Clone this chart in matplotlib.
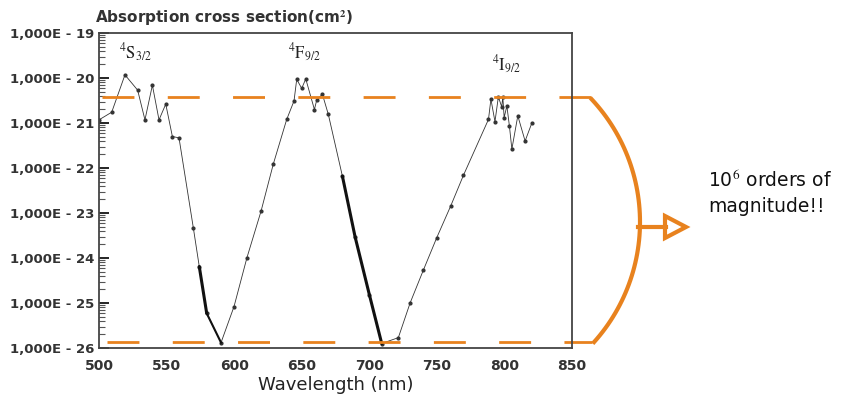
import numpy as np
import matplotlib.pyplot as plt
from matplotlib.patches import Polygon
from matplotlib.ticker import LogLocator, NullFormatter

plt.rcParams['mathtext.fontset'] = 'stix'

# absorption cross section (log10 of cm^2)
wavelength = [500, 509.4, 519.2, 528.6, 534, 539.5, 544.4, 549.4, 554.3, 559.2,
              569.8, 574.2, 579.7, 590.3, 599.9, 609.5, 619.9, 629, 638.9, 644.3,
              646.3, 650, 653, 659.4, 661.1, 665.3, 669.7, 680.1, 689.5, 700.1,
              709.2, 721.5, 730.2, 740, 749.9, 760.3, 769.7, 788.2, 790, 793,
              795.5, 798, 798.8, 799.8, 801.8, 803.7, 805.5, 809.9, 815.3, 820.3]
log_sigma = [-20.93, -20.76, -19.93, -20.27, -20.93, -20.16, -20.93, -20.58, -21.30, -21.33,
             -23.33, -24.19, -25.23, -25.88, -25.08, -23.99, -22.96, -21.91, -20.92, -20.51,
             -20.03, -20.23, -20.02, -20.70, -20.49, -20.36, -20.81, -22.18, -23.53, -24.82,
             -25.90, -25.77, -25.00, -24.27, -23.55, -22.84, -22.16, -20.92, -20.47, -20.97,
             -20.42, -20.64, -20.42, -20.88, -20.62, -21.07, -21.58, -20.84, -21.40, -21.00]
sigma = [10 ** v for v in log_sigma]

# densely measured stretches drawn as a heavy line
thick_ranges = [(574, 581), (680, 710)]

# the two orange reference levels
levels = [10 ** -20.42, 10 ** -25.87]

peak_labels = [r'$^4\mathrm{S}_{3/2}$', r'$^4\mathrm{F}_{9/2}$', r'$^4\mathrm{I}_{9/2}$']
peak_x = [527, 652, 802]
peak_y = [10 ** -19.45, 10 ** -19.45, 10 ** -19.72]

orange = '#E8821E'
W, H = 846, 398

fig = plt.figure(figsize=(W / 100, H / 100), dpi=100)
ax = fig.add_axes([99 / W, 1 - 348 / H, 473 / W, 315 / H])

ax.plot(wavelength, sigma, color='#333333', lw=0.6, marker='o', ms=2)
for lo, hi in thick_ranges:
    xs = [w for w in wavelength if lo <= w <= hi]
    ys = [s for w, s in zip(wavelength, sigma) if lo <= w <= hi]
    ax.plot(xs, ys, color='#111111', lw=2.2, solid_capstyle='round')
# lighter tail after the first thick bit
ax.plot([579.7, 590.3], [10 ** -25.23, 10 ** -25.88], color='#111111', lw=1.5)

ax.set_yscale('log')
ax.set_xlim(500, 850)
ax.set_ylim(1e-26, 1e-19)
ax.set_xticks([500, 550, 600, 650, 700, 750, 800, 850])
ax.set_yticks([10.0 ** e for e in range(-26, -18)])
ax.set_yticklabels(['1,000E - %d' % -e for e in range(-26, -18)])
ax.yaxis.set_minor_locator(LogLocator(base=10, subs=tuple(range(2, 10)), numticks=100))
ax.yaxis.set_minor_formatter(NullFormatter())
ax.tick_params(axis='y', which='major', direction='in', length=7, width=1.2, labelsize=9.5)
ax.tick_params(axis='y', which='minor', direction='in', length=4, width=0.8,
               color='#555555')
ax.tick_params(axis='x', direction='in', length=0, labelsize=10, pad=8)
for lab in ax.get_xticklabels() + ax.get_yticklabels():
    lab.set_fontweight('bold')
    lab.set_color('#333333')
ax.set_xlabel('Wavelength (nm)', fontsize=13, color='#222222', labelpad=2)
for sp in ax.spines.values():
    sp.set_color('#444444')
    sp.set_linewidth(1.3)

fig.text(95 / W, 1 - 18 / H, r'Absorption cross section(cm$^{\mathbf{2}}$)',
         fontsize=11, fontweight='bold', color='#333333', va='center', ha='left')

for lab, x, y in zip(peak_labels, peak_x, peak_y):
    ax.text(x, y, lab, fontsize=12, ha='center', va='center', color='#222222')

# orange dashed levels, running past the right edge of the frame
for lvl, start in zip(levels, [502, 506]):
    ax.plot([start, 865], [lvl, lvl], color=orange, lw=2, dashes=(11.5, 12),
            clip_on=False)

# bracket arc (circle segment) and open arrow, in figure pixels
def fpt(x, y):
    return (x / W, 1 - y / H)

cx, cy, r = 460, 222, 180
ang = np.linspace(-0.75, 0.73, 60)
arc_x = cx + r * np.cos(ang)
arc_y = cy + r * np.sin(ang)
fig.add_artist(plt.Line2D(arc_x / W, 1 - arc_y / H, transform=fig.transFigure,
                          color=orange, lw=3))
fig.add_artist(plt.Line2D([638 / W, 666 / W], [1 - 227 / H] * 2,
                          transform=fig.transFigure, color=orange, lw=3))
fig.add_artist(Polygon([fpt(665, 216), fpt(686, 227), fpt(665, 238)], closed=True,
                       transform=fig.transFigure, facecolor='white',
                       edgecolor=orange, lw=3, joinstyle='miter'))

fig.text(708 / W, 1 - 180 / H, r'10$^6$ orders of', fontsize=13.5, va='center',
         ha='left', color='#111111')
fig.text(708 / W, 1 - 207 / H, 'magnitude!!', fontsize=13.5, va='center',
         ha='left', color='#111111')

fig.savefig('out.png', dpi=100)
